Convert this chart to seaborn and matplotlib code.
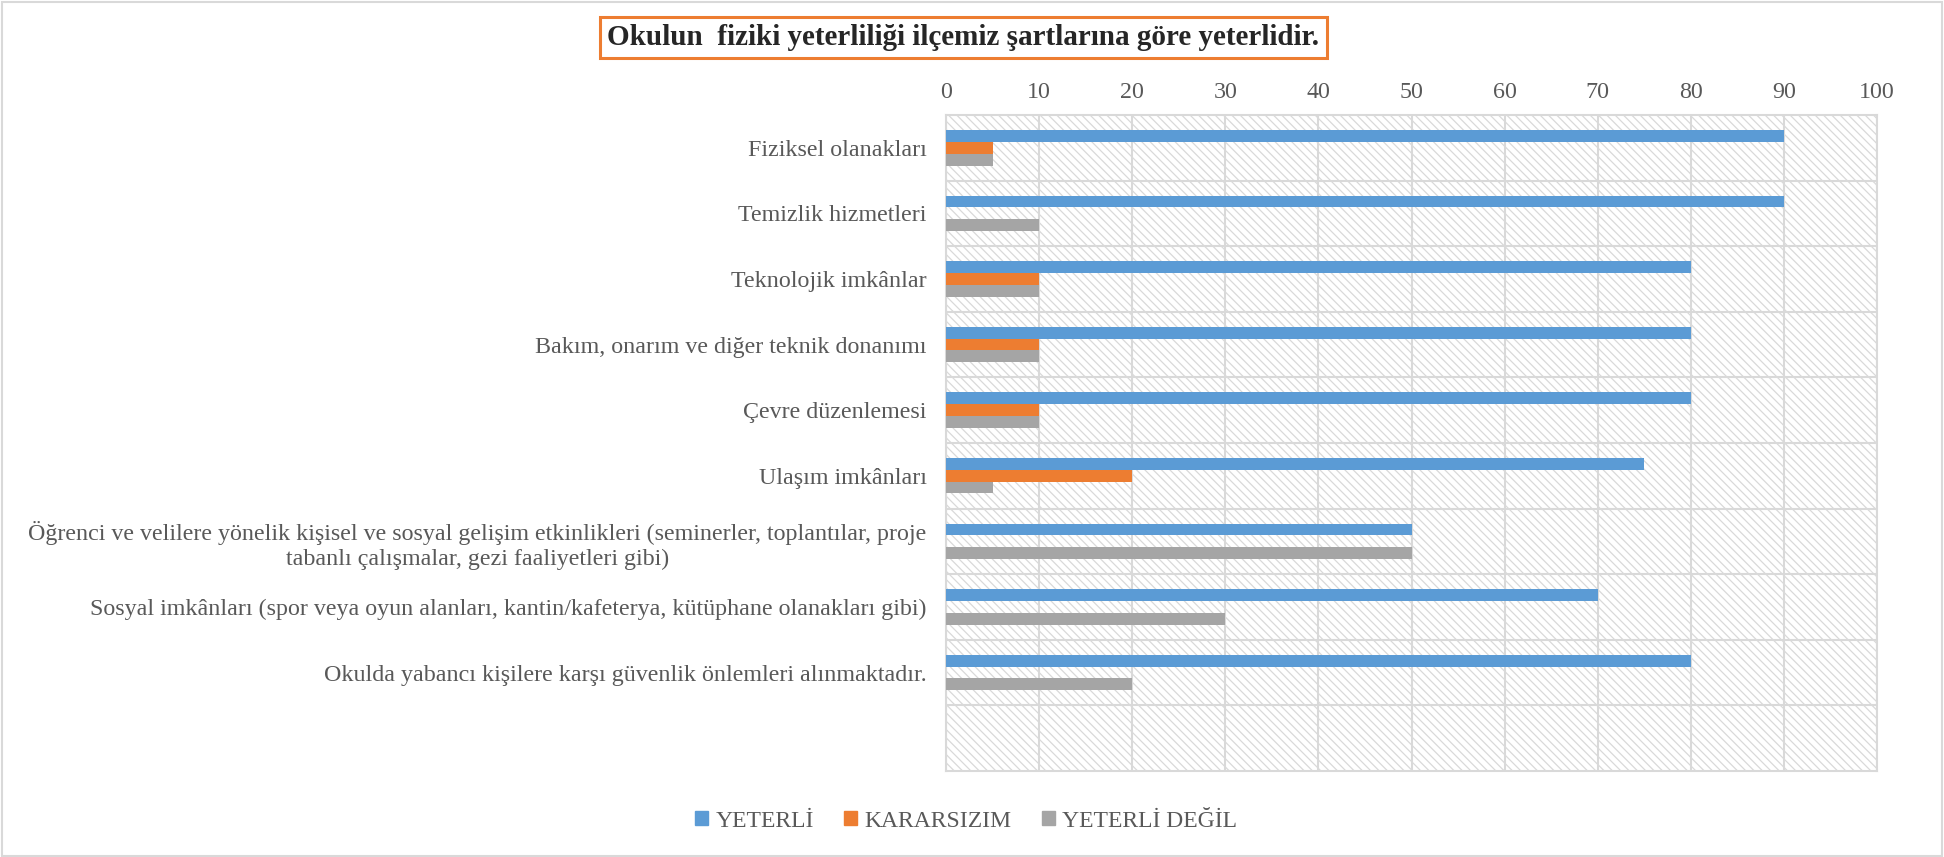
import matplotlib as mpl
import matplotlib.pyplot as plt
import seaborn as sns
import pandas as pd
import numpy as np
from matplotlib.patches import Rectangle

## --------------- DATOS ---------- ##

kategoriler = [
  "Fiziksel olanakları",
  "Temizlik hizmetleri",
  "Teknolojik imkânlar",
  "Bakım, onarım ve diğer teknik donanımı",
  "Çevre düzenlemesi",
  "Ulaşım imkânları",
  "Öğrenci ve velilere yönelik kişisel ve sosyal gelişim etkinlikleri (seminerler, toplantılar, proje\ntabanlı çalışmalar, gezi faaliyetleri gibi)",
  "Sosyal imkânları (spor veya oyun alanları, kantin/kafeterya, kütüphane olanakları gibi)",
  "Okulda yabancı kişilere karşı güvenlik önlemleri alınmaktadır.",
]
seriler = ["YETERLİ", "KARARSIZIM", "YETERLİ DEĞİL"]
yeterli = [90, 90, 80, 80, 80, 75, 50, 70, 80]
kararsizim = [5, 0, 10, 10, 10, 20, 0, 0, 0]
yeterli_degil = [5, 10, 10, 10, 10, 5, 50, 30, 20]
renkler = ["#5B9BD5", "#ED7D31", "#A5A5A5"]
x_ticks = [0, 10, 20, 30, 40, 50, 60, 70, 80, 90, 100]
baslik = "Okulun  fiziki yeterliliği ilçemiz şartlarına göre yeterlidir."

df = pd.DataFrame({
  "kategori": kategoriler * 3,
  "seri": [seriler[0]] * 9 + [seriler[1]] * 9 + [seriler[2]] * 9,
  "deger": yeterli + kararsizim + yeterli_degil,
})

## --------------- GRAFICO ---------- ##

sns.set_style("white")
plt.rcParams['font.family'] = ['Liberation Serif', 'DejaVu Serif']
plt.rcParams['hatch.color'] = '#d6d6d6'
plt.rcParams['hatch.linewidth'] = 0.9

grid_renk = "#d9d9d9"
yazi_renk = "#595959"

fig = plt.figure(figsize=(19.44, 8.57), dpi=100)
ax = fig.add_axes([0.4866, 0.1004, 0.4790, 0.7654])

# fondo rayado
ax.add_patch(Rectangle((0, 0), 1, 1, transform=ax.transAxes, facecolor="white",
                       edgecolor=grid_renk, hatch="\\\\\\\\", linewidth=0, zorder=0))

sns.barplot(data=df, y="kategori", x="deger", hue="seri", orient="h",
            palette=renkler, width=0.54, saturation=1, linewidth=0, ax=ax, zorder=3,
            legend=True)

ax.set_xlim(0, 100)
ax.set_ylim(9.5, -0.5)
ax.set_xticks(x_ticks)
ax.xaxis.tick_top()
ax.tick_params(axis="x", length=0, pad=9, labelsize=17.3, labelcolor=yazi_renk)
ax.tick_params(axis="y", which="major", length=0, pad=14, labelsize=17.3, labelcolor=yazi_renk)
ax.set_yticks(np.arange(0.5, 9.5, 1), minor=True)
ax.tick_params(axis="y", which="minor", length=6, color=grid_renk, width=1.5)
ax.set_xlabel("")
ax.set_ylabel("")

ax.grid(axis="x", color=grid_renk, linewidth=1.5, zorder=1)
ax.grid(axis="y", which="minor", color=grid_renk, linewidth=1.5, zorder=1)
ax.grid(axis="y", which="major", visible=False)
ax.set_axisbelow(True)
for s in ax.spines.values():
  s.set_color(grid_renk)
  s.set_linewidth(1.5)

for lbl in ax.get_yticklabels():
  if "\n" in lbl.get_text():
    lbl.set_multialignment("center")

ax.legend_.remove()
handles = [Rectangle((0, 0), 1, 1, color=c) for c in renkler]
fig.legend(handles, seriler, loc="center", bbox_to_anchor=(0.497, 0.042), ncol=3,
           frameon=False, fontsize=17, labelcolor=yazi_renk, handlelength=0.55,
           handleheight=0.55, handletextpad=0.3, columnspacing=1.3)

fig.text(0.4955, 0.956, baslik, ha="center", va="center", fontsize=21, fontweight="bold",
         bbox=dict(boxstyle="square,pad=0.25", facecolor="white", edgecolor="#ED7D31", linewidth=2.2))

# marco de la figura
fig.patches.append(Rectangle((0.001, 0.001), 0.998, 0.997, transform=fig.transFigure,
                             fill=False, edgecolor=grid_renk, linewidth=1.5))

plt.savefig("out.png", dpi=100)
